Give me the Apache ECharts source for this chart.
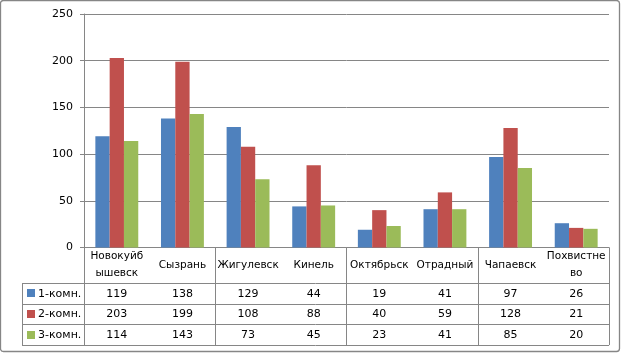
<!DOCTYPE html>
<html><head><meta charset="utf-8">
<script src="https://cdn.jsdelivr.net/npm/echarts@6/dist/echarts.min.js"></script>
<style>html,body{margin:0;padding:0;background:#fff}#c{width:624px;height:353px}</style>
</head><body><div id="c"></div>
<script>
const categories = ['Новокуйб\nышевск','Сызрань','Жигулевск','Кинель','Октябрьск','Отрадный','Чапаевск','Похвистне\nво'];
const seriesNames = ['1-комн.','2-комн.','3-комн.'];
const oneRoom = [119,138,129,44,19,41,97,26];
const twoRoom = [203,199,108,88,40,59,128,21];
const threeRoom = [114,143,73,45,23,41,85,20];
const yTicks = [0,50,100,150,200,250];

const colors = ['#4F81BD','#C0504D','#9BBB59'];
const lineColor = '#868686';
const font = 'DejaVu Sans';
const W = 624, H = 353;
const gridLeft = 84, gridRight = 609, gridTop = 14, gridBottomY = 247.5;
const headerBottom = 283, rowH = 20.7, tableLeft = 22;
const seriesData = [oneRoom, twoRoom, threeRoom];

const chart = echarts.init(document.getElementById('c'), null, {renderer:'canvas'});
chart.setOption({
  animation:false,
  color: colors,
  grid:{left:gridLeft, right:W-gridRight, top:gridTop, bottom:H-gridBottomY, containLabel:false},
  xAxis:{type:'category', data:categories, boundaryGap:true,
    axisLine:{lineStyle:{color:lineColor,width:1}},
    axisTick:{show:true, length:headerBottom+3*rowH-gridBottomY, lineStyle:{color:lineColor}},
    axisLabel:{show:false}},
  yAxis:{type:'value', min:yTicks[0], max:yTicks[yTicks.length-1], interval:50,
    axisLine:{show:true, lineStyle:{color:lineColor}},
    axisTick:{show:true, length:4, lineStyle:{color:lineColor}},
    splitLine:{lineStyle:{color:lineColor}},
    axisLabel:{color:'#000', fontFamily:font, fontSize:11, margin:11}},
  series: seriesNames.map((n,i)=>({name:n, type:'bar', data:seriesData[i], barWidth:14.3, barGap:'0%', itemStyle:{color:colors[i]}}))
});

const g = [];
// outer border
g.push({type:'rect', shape:{x:0.5,y:0.5,width:619,height:351,r:3}, style:{fill:'none', stroke:lineColor, lineWidth:1.3}, silent:true});
// table horizontal lines
for (let r=0;r<=3;r++){
  const y = Math.round(headerBottom + r*rowH)+0.5;
  g.push({type:'line', shape:{x1:tableLeft, y1:y, x2:gridRight, y2:y}, style:{stroke:lineColor, lineWidth:1}, silent:true});
}
// legend column left border
g.push({type:'line', shape:{x1:tableLeft+0.5, y1:headerBottom+0.5, x2:tableLeft+0.5, y2:Math.round(headerBottom+3*rowH)+0.5}, style:{stroke:lineColor, lineWidth:1}, silent:true});
// header texts and values
categories.forEach((c,i)=>{
  const x = chart.convertToPixel({xAxisIndex:0}, i);
  g.push({type:'text', x:x, y:(gridBottomY+headerBottom)/2, style:{text:c, fontFamily:font, fontSize:10.5, fill:'#000', align:'center', verticalAlign:'middle', lineHeight:17}, silent:true});
  seriesData.forEach((arr,r)=>{
    g.push({type:'text', x:x, y:headerBottom+r*rowH+rowH/2+0.5, style:{text:String(arr[i]), fontFamily:font, fontSize:11, fill:'#000', align:'center', verticalAlign:'middle'}, silent:true});
  });
});
// legend keys
seriesNames.forEach((n,r)=>{
  const cy = headerBottom + r*rowH + rowH/2;
  g.push({type:'rect', shape:{x:27, y:Math.round(cy-4), width:8, height:8}, style:{fill:colors[r]}, silent:true});
  g.push({type:'text', x:38, y:cy+0.5, style:{text:n, fontFamily:font, fontSize:11, fill:'#000', align:'left', verticalAlign:'middle'}, silent:true});
});
chart.setOption({graphic:g});
</script></body></html>
